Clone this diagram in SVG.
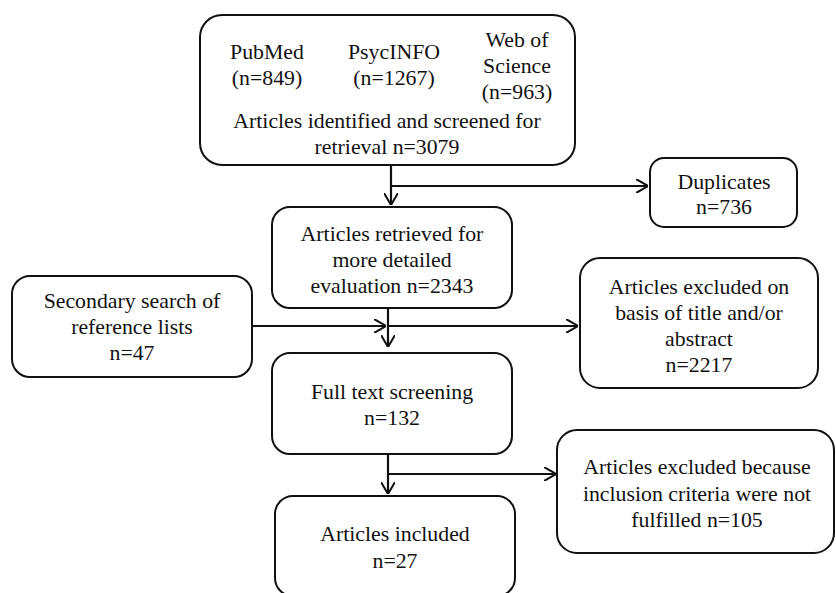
<svg xmlns="http://www.w3.org/2000/svg" width="836" height="593" viewBox="0 0 836 593">
<style>
.box{fill:#fff;stroke:#111;stroke-width:2}
text{font-family:'Liberation Serif','Times New Roman',serif;font-size:21.8px;fill:#111;text-anchor:middle}
.c{fill:none;stroke:#111;stroke-width:2.2}
</style>
<defs>
<marker id="ah" viewBox="0 0 12 14" refX="12" refY="7" markerWidth="12" markerHeight="14" markerUnits="userSpaceOnUse" orient="auto">
<path d="M0,0 L12,7 L0,14" fill="none" stroke="#111" stroke-width="2"/>
</marker>
</defs>
<rect width="836" height="593" fill="#fff"/>
<g id="connectors">
<path class="c" d="M391,165 V205" marker-end="url(#ah)"/>
<path class="c" d="M391,186 H648" marker-end="url(#ah)"/>
<path class="c" d="M388,308 V347" marker-end="url(#ah)"/>
<path class="c" d="M252,326 H386" marker-end="url(#ah)"/>
<path class="c" d="M388,326 H578" marker-end="url(#ah)"/>
<path class="c" d="M388,454 V494" marker-end="url(#ah)"/>
<path class="c" d="M388,474 H556" marker-end="url(#ah)"/>
</g>
<g id="identified">
<rect class="box" x="200" y="15" width="375" height="150" rx="22"/>
<text x="267" y="59">PubMed</text>
<text x="267" y="85">(n=849)</text>
<text x="394" y="59">PsycINFO</text>
<text x="394" y="85">(n=1267)</text>
<text x="517" y="47">Web of</text>
<text x="517" y="73">Science</text>
<text x="517" y="99">(n=963)</text>
<text x="387" y="128">Articles identified and screened for</text>
<text x="387" y="154">retrieval n=3079</text>
</g>
<g id="duplicates">
<rect class="box" x="650" y="158" width="147" height="69" rx="14"/>
<text x="724" y="189">Duplicates</text>
<text x="724" y="214">n=736</text>
</g>
<g id="retrieved">
<rect class="box" x="272" y="207" width="240" height="101" rx="18"/>
<text x="392" y="241">Articles retrieved for</text>
<text x="392" y="267">more detailed</text>
<text x="392" y="293">evaluation n=2343</text>
</g>
<g id="secondary">
<rect class="box" x="12" y="276" width="240" height="101" rx="18"/>
<text x="132" y="308">Secondary search of</text>
<text x="132" y="334">reference lists</text>
<text x="132" y="360">n=47</text>
</g>
<g id="excluded-title">
<rect class="box" x="580" y="258" width="238" height="130" rx="20"/>
<text x="699" y="294">Articles excluded on</text>
<text x="699" y="320">basis of title and/or</text>
<text x="699" y="346">abstract</text>
<text x="699" y="372">n=2217</text>
</g>
<g id="fulltext">
<rect class="box" x="272" y="353" width="240" height="101" rx="18"/>
<text x="392" y="399">Full text screening</text>
<text x="392" y="425">n=132</text>
</g>
<g id="excluded-criteria">
<rect class="box" x="557" y="430" width="277" height="123" rx="20"/>
<text x="697" y="474">Articles excluded because</text>
<text x="697" y="501">inclusion criteria were not</text>
<text x="697" y="527">fulfilled n=105</text>
</g>
<g id="included">
<rect class="box" x="275" y="496" width="240" height="100" rx="18"/>
<text x="395" y="541">Articles included</text>
<text x="395" y="568">n=27</text>
</g>
</svg>
